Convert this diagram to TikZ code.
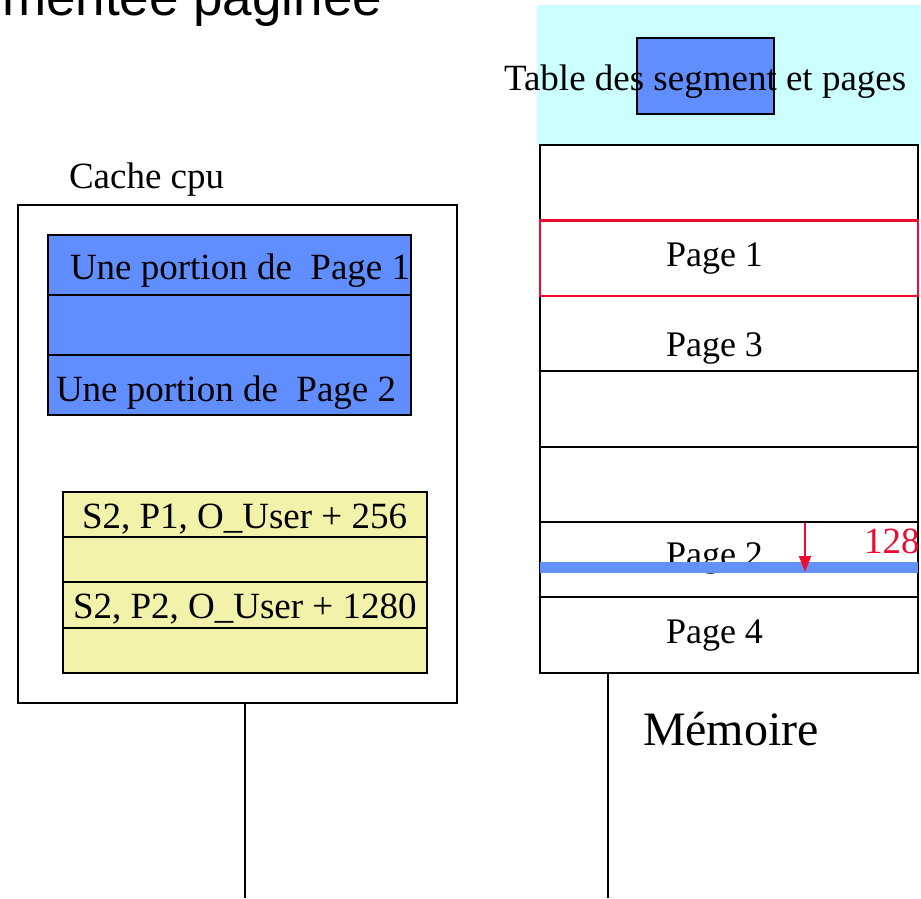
\documentclass[tikz,border=0pt]{standalone}
\usepackage{fontspec}
\setmainfont{Liberation Serif}
\newfontfamily\titlefont{Liberation Sans}
\usetikzlibrary{arrows.meta}

\definecolor{tablecyan}{RGB}{204,255,255}
\definecolor{pageblue}{RGB}{97,142,255}
\definecolor{lineblue}{RGB}{100,145,245}
\definecolor{cacheyellow}{RGB}{242,242,170}
\definecolor{pagered}{RGB}{240,10,50}

\begin{document}
\begin{tikzpicture}[x = 1pt, y = -1pt, line width = 2pt,
    txt/.style = {font = \fontsize{37}{40}\selectfont, inner sep = 0pt, anchor = base west},
    pagetxt/.style = {txt, font = \fontsize{36}{40}\selectfont}]

    \def\memleft  {540}
    \def\memright {918}
    \def\memtop   {145}
    \def\rowh     {75.4}

    \useasboundingbox (0, 0) rectangle (921, 898);
    \clip (0, 0) rectangle (921, 898);

    % title, cut by the top edge
    \node [inner sep = 0pt, anchor = base west, font = \titlefont\fontsize{53}{56}\selectfont]
        (title) at (1, 15) {mentée paginée};

    % table des segments
    \path [fill = tablecyan] (537, 5) rectangle (921, \memtop);
    \path [fill = pageblue, draw = black] (637, 38) rectangle (774, 114);
    \node [txt] (tabletxt) at (503, 90) {Table des segment et pages};

    % memory
    \path [draw = black] (\memleft, \memtop) rectangle (\memright, \memtop + 7 * \rowh);
    \foreach \i in {1, ..., 6}
        \draw (\memleft, \memtop + \i * \rowh) -- (\memright, \memtop + \i * \rowh);
    \draw [pagered, line width = 2.5pt] (\memleft, \memtop + \rowh) rectangle (\memright, \memtop + 2 * \rowh);
    \node [pagetxt] (page1) at (665, 266) {Page 1};
    \node [pagetxt] (page3) at (665, 356) {Page 3};
    \node [pagetxt] (page2) at (665, 566) {Page 2};
    \node [pagetxt] (page4) at (665, 643) {Page 4};
    % offset line in page 2
    \draw [lineblue, line width = 11pt] (\memleft, 567.5) -- (\memright, 567.5);
    \coordinate (offtop) at (805, 523);
    \coordinate (offbot) at (805, 572);
    \draw [pagered, -{Triangle[length = 16pt, width = 12pt]}] (offtop) -- (offbot);
    \node [txt, text = pagered] (offset) at (863, 553) {128};
    \node [txt, font = \fontsize{48}{52}\selectfont] (memoire) at (642, 745) {Mémoire};

    % cache
    \node [txt] (cachetxt) at (68, 188) {Cache cpu};
    \path [draw = black] (18, 205) rectangle (457, 703);
    \path [fill = pageblue, draw = black] (48, 235) rectangle (411, 415);
    \draw (48, 295) -- (411, 295);
    \draw (48, 355) -- (411, 355);
    \node [txt] (portion1) at (69, 279) {Une portion de\ \ Page 1};
    \node [txt] (portion2) at (55, 401) {Une portion de\ \ Page 2};
    \path [fill = cacheyellow, draw = black] (63, 492) rectangle (427, 673);
    \foreach \y in {537, 582, 628}
        \draw (63, \y) -- (427, \y);
    \node [txt] (addr1) at (81, 528) {S2, P1, O\textunderscore User + 256};
    \node [txt] (addr2) at (72, 618) {S2, P2, O\textunderscore User + 1280};

    % bus lines
    \coordinate (cachebot) at (245, 703);
    \coordinate (cacheend) at (245, 898);
    \coordinate (membot)   at (608, \memtop + 7 * \rowh);
    \coordinate (memend)   at (608, 898);
    \draw (cachebot) -- (cacheend);
    \draw (membot) -- (memend);

\end{tikzpicture}
\end{document}
